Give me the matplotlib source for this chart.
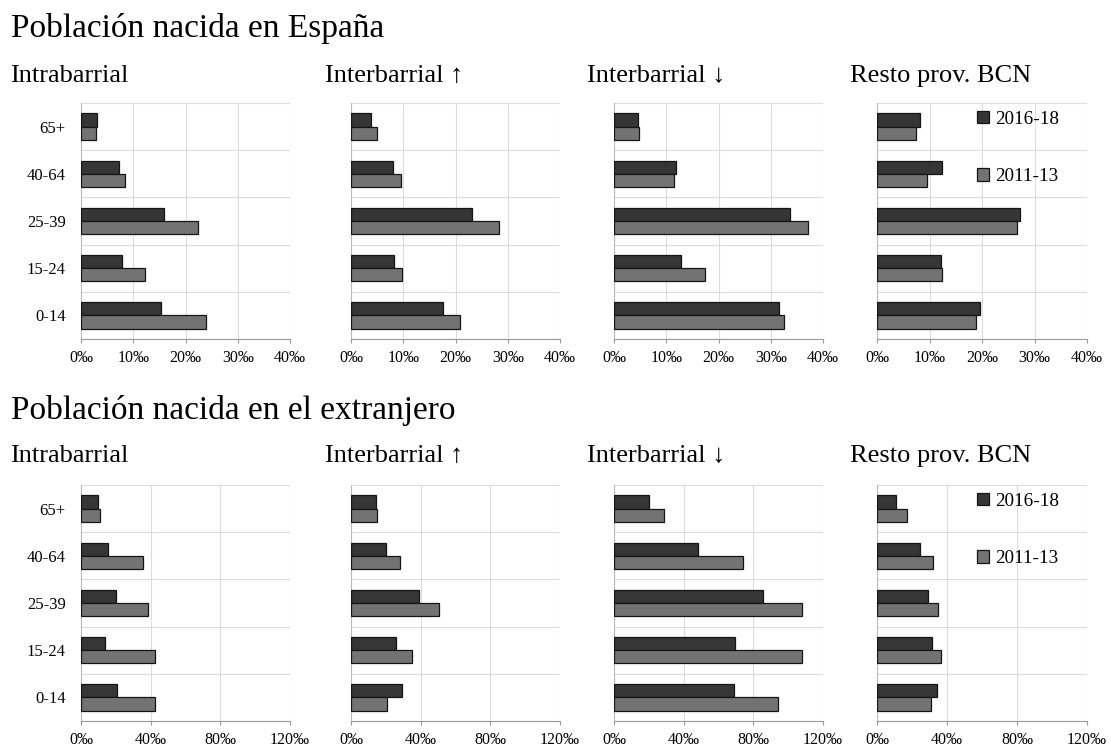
import numpy as np
import matplotlib
matplotlib.use('Agg')
import matplotlib.pyplot as plt

plt.rcParams['font.family'] = ['Liberation Serif', 'DejaVu Serif']

# age groups, bottom to top
ages = ['0-14', '15-24', '25-39', '40-64', '65+']
panels = ['Intrabarrial', 'Interbarrial \u2191', 'Interbarrial \u2193', 'Resto prov. BCN']

# Población nacida en España (per mille), 2016-18 and 2011-13
esp_1618 = [
    [15.4, 7.9, 15.8, 7.3, 3.0],
    [17.6, 8.2, 23.2, 8.0, 3.8],
    [31.6, 12.8, 33.7, 11.8, 4.5],
    [19.7, 12.1, 27.2, 12.4, 8.1],
]
esp_1113 = [
    [23.9, 12.2, 22.3, 8.5, 2.8],
    [20.8, 9.7, 28.4, 9.6, 5.0],
    [32.6, 17.5, 37.2, 11.5, 4.7],
    [18.9, 12.4, 26.7, 9.5, 7.4],
]

# Población nacida en el extranjero (per mille)
ext_1618 = [
    [20.6, 14.0, 20.0, 15.6, 9.8],
    [29.0, 25.9, 39.0, 20.0, 14.1],
    [68.7, 69.7, 85.8, 48.2, 20.1],
    [34.1, 31.6, 29.4, 24.6, 11.0],
]
ext_1113 = [
    [42.5, 42.5, 38.5, 35.6, 11.0],
    [20.7, 35.0, 50.5, 28.0, 15.0],
    [94.1, 107.9, 107.9, 74.1, 28.5],
    [30.7, 36.4, 35.0, 31.8, 17.4],
]

esp_ticks = [0, 10, 20, 30, 40]
ext_ticks = [0, 40, 80, 120]

W, H = 1111, 749
fig = plt.figure(figsize=(W / 100, H / 100), dpi=100)

dark = '#363636'
light = '#737373'
edge = '#151515'
h = 0.28

xs = [(81, 290), (351, 560), (614, 823), (877, 1087)]
title_x = [10, 325, 587, 850]


def draw_row(y0, y1, new, old, ticks, title, title_y, sub_y):
    fig.text(11 / W, 1 - title_y / H, title, fontsize=24, va='baseline', ha='left')
    for i, (x0, x1) in enumerate(xs):
        fig.text(title_x[i] / W, 1 - sub_y / H, panels[i], fontsize=19,
                 va='baseline', ha='left')
        ax = fig.add_axes([x0 / W, 1 - y1 / H, (x1 - x0) / W, (y1 - y0) / H])
        y = np.arange(len(ages))
        b1 = ax.barh(y + h / 2, new[i], height=h, color=dark, edgecolor=edge,
                     linewidth=0.9, label='2016-18', zorder=3)
        b2 = ax.barh(y - h / 2, old[i], height=h, color=light, edgecolor=edge,
                     linewidth=0.9, label='2011-13', zorder=3)
        ax.set_ylim(-0.5, len(ages) - 0.5)
        ax.set_xlim(ticks[0], ticks[-1])
        ax.set_xticks(ticks)
        ax.set_xticklabels(['%d\u2030' % t for t in ticks], fontsize=11.5)
        ax.set_yticks(y)
        if i == 0:
            ax.set_yticklabels(ages, fontsize=12)
        else:
            ax.set_yticklabels([])
        ax.set_yticks(np.arange(-0.5, len(ages), 1), minor=True)
        ax.tick_params(axis='y', which='both', length=0, pad=11)
        ax.tick_params(axis='x', length=3, color='#999999', pad=5)
        ax.grid(axis='x', which='major', color='#dcdcdc', linewidth=0.8, zorder=0)
        ax.grid(axis='y', which='minor', color='#dcdcdc', linewidth=0.8, zorder=0)
        for s in ['top', 'right']:
            ax.spines[s].set_visible(False)
        ax.spines['left'].set_color('#bbbbbb')
        ax.spines['bottom'].set_color('#999999')
        if i == 3:
            ax.legend(handles=[b1, b2], loc='upper left',
                      bbox_to_anchor=(0.395, 1.04), frameon=False, fontsize=13.8,
                      handlelength=0.62, handleheight=0.62, handletextpad=0.3,
                      labelspacing=2.1)


draw_row(103, 339, esp_1618, esp_1113, esp_ticks,
         'Población nacida en España', 37, 82)
draw_row(485, 721, ext_1618, ext_1113, ext_ticks,
         'Población nacida en el extranjero', 419, 462)

fig.savefig('out.png', dpi=100)
